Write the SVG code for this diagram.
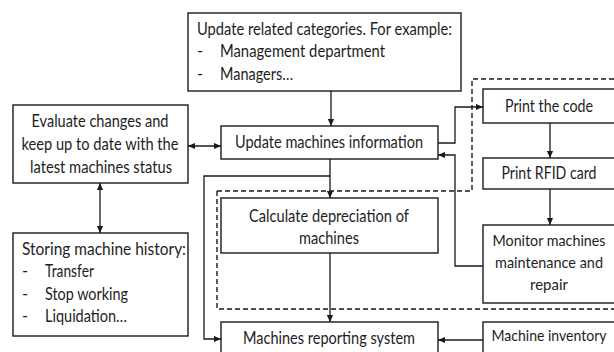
<svg xmlns="http://www.w3.org/2000/svg" width="614" height="352" viewBox="0 0 614 352">
<style>
.box{fill:#fff;stroke:#1a1a1a;stroke-width:1.4}
.t{font-family:Lato,"Open Sans",sans-serif;font-size:16.5px;fill:#1e1e1e}
.s{font-size:16px}
.xs{font-size:15px}
.c{text-anchor:middle}
.ln{fill:none;stroke:#1a1a1a;stroke-width:1.3}
.dash{fill:none;stroke:#1a1a1a;stroke-width:1.4;stroke-dasharray:5,3}
</style>
<defs>
<marker id="ah" viewBox="0 0 8 8" refX="8" refY="4" markerWidth="7" markerHeight="7" markerUnits="userSpaceOnUse" orient="auto-start-reverse">
<path d="M0,0.5 L8,4 L0,7.5 Z" fill="#1a1a1a"/>
</marker>
</defs>
<rect width="614" height="352" fill="#fff"/>
<g id="boundary">
<path class="dash" d="M217,191 H472 V79 H616"/>
<path class="dash" d="M217,191 V309 H616"/>
</g>
<g id="connectors">
<path class="ln" d="M331,91 V126" marker-end="url(#ah)"/>
<path class="ln" d="M188,146 H221" marker-start="url(#ah)" marker-end="url(#ah)"/>
<path class="ln" d="M100,183 V233" marker-start="url(#ah)" marker-end="url(#ah)"/>
<path class="ln" d="M438,143 H455 V107 H483" marker-end="url(#ah)"/>
<path class="ln" d="M483,266 H455 V155 H438" marker-end="url(#ah)"/>
<path class="ln" d="M330,159 V198" marker-end="url(#ah)"/>
<path class="ln" d="M330,176 H204 V339 H221" marker-end="url(#ah)"/>
<path class="ln" d="M330,253 V322" marker-end="url(#ah)"/>
<path class="ln" d="M550,123 V158" marker-end="url(#ah)"/>
<path class="ln" d="M550,189 V225" marker-end="url(#ah)"/>
<path class="ln" d="M483,340 H438" marker-end="url(#ah)"/>
</g>
<g id="update-categories">
<rect class="box" x="188" y="13" width="273" height="78"/>
<text class="t" x="197" y="35" textLength="255" lengthAdjust="spacingAndGlyphs">Update related categories. For example:</text>
<text class="t" x="197" y="57">-</text>
<text class="t" x="220" y="57" textLength="165" lengthAdjust="spacingAndGlyphs">Management department</text>
<text class="t" x="197" y="80">-</text>
<text class="t" x="220" y="80" textLength="73" lengthAdjust="spacingAndGlyphs">Managers…</text>
</g>
<g id="evaluate">
<rect class="box" x="13" y="105" width="175" height="78"/>
<text class="t c" x="100" y="127" textLength="137" lengthAdjust="spacingAndGlyphs">Evaluate changes and</text>
<text class="t c" x="100" y="150" textLength="157" lengthAdjust="spacingAndGlyphs">keep up to date with the</text>
<text class="t c" x="101" y="173" textLength="142" lengthAdjust="spacingAndGlyphs">latest machines status</text>
</g>
<g id="storing">
<rect class="box" x="13" y="233" width="175" height="103"/>
<text class="t" x="22" y="255" textLength="164" lengthAdjust="spacingAndGlyphs">Storing machine history:</text>
<text class="t" x="22" y="277">-</text>
<text class="t" x="45" y="277" textLength="49" lengthAdjust="spacingAndGlyphs">Transfer</text>
<text class="t" x="22" y="300">-</text>
<text class="t" x="45" y="300" textLength="83" lengthAdjust="spacingAndGlyphs">Stop working</text>
<text class="t" x="22" y="322">-</text>
<text class="t" x="45" y="322" textLength="82" lengthAdjust="spacingAndGlyphs">Liquidation…</text>
</g>
<g id="update-info">
<rect class="box" x="221" y="126" width="217" height="33"/>
<text class="t c" x="329" y="148" textLength="188" lengthAdjust="spacingAndGlyphs">Update machines information</text>
</g>
<g id="depreciation">
<rect class="box" x="221" y="198" width="217" height="55"/>
<text class="t c" x="329" y="222" textLength="160" lengthAdjust="spacingAndGlyphs">Calculate depreciation of</text>
<text class="t c" x="329" y="244" textLength="60" lengthAdjust="spacingAndGlyphs">machines</text>
</g>
<g id="reporting">
<rect class="box" x="221" y="322" width="217" height="32"/>
<text class="t c" x="329" y="344" textLength="172" lengthAdjust="spacingAndGlyphs">Machines reporting system</text>
</g>
<g id="print-code">
<rect class="box" x="483" y="89" width="133" height="34"/>
<text class="t c" x="549" y="112" textLength="88" lengthAdjust="spacingAndGlyphs">Print the code</text>
</g>
<g id="print-rfid">
<rect class="box" x="483" y="158" width="133" height="31"/>
<text class="t c" x="549" y="179" textLength="95" lengthAdjust="spacingAndGlyphs">Print RFID card</text>
</g>
<g id="monitor">
<rect class="box" x="483" y="225" width="133" height="78"/>
<text class="t xs c" x="549" y="246" textLength="113" lengthAdjust="spacingAndGlyphs">Monitor machines</text>
<text class="t s c" x="549" y="268" textLength="108" lengthAdjust="spacingAndGlyphs">maintenance and</text>
<text class="t s c" x="549" y="290" textLength="38" lengthAdjust="spacingAndGlyphs">repair</text>
</g>
<g id="inventory">
<rect class="box" x="483" y="322" width="133" height="32"/>
<text class="t xs c" x="549" y="341" textLength="115" lengthAdjust="spacingAndGlyphs">Machine inventory</text>
</g>
</svg>
